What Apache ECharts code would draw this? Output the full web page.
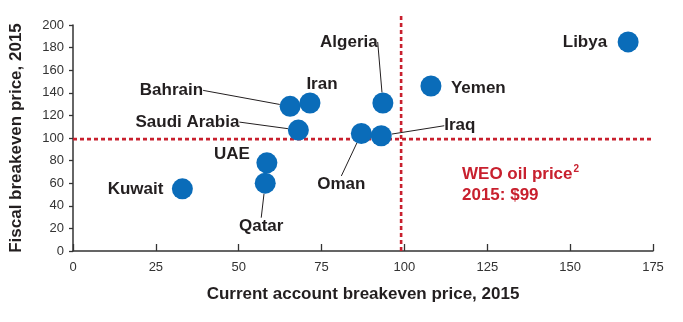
<!DOCTYPE html>
<html>
<head>
<meta charset="utf-8">
<script src="https://cdn.jsdelivr.net/npm/echarts@6/dist/echarts.min.js"></script>
<style>
html,body{margin:0;padding:0;background:#fff;}
#chart{width:683px;height:322px;}
</style>
</head>
<body>
<div id="chart"></div>
<script>
// ---- data ----
var countries = ['Kuwait','Qatar','UAE','Saudi Arabia','Bahrain','Iran','Oman','Iraq','Algeria','Yemen','Libya'];
var currentAccountBreakeven = [33, 58, 58.5, 68, 65.5, 71.5, 87, 93, 93.5, 108, 167.5];
var fiscalBreakeven = [55, 60, 78, 107, 128, 131, 104, 102, 131, 146, 185];
var weoOilPrice = 99;
var xTicks = [0, 25, 50, 75, 100, 125, 150, 175];
var yTicks = [0, 20, 40, 60, 80, 100, 120, 140, 160, 180, 200];

// ---- label placement (pixel offsets of text anchor from marker centre) ----
var labelPlacement = {
  'Kuwait':       {dx: -19, dy: 0,   align: 'right',  leader: false, pad: 2},
  'Qatar':        {dx: -4,  dy: 43,  align: 'center', leader: true,  pad: 5},
  'UAE':          {dx: -17, dy: -9,  align: 'right',  leader: false, pad: 2},
  'Saudi Arabia': {dx: -59, dy: -8,  align: 'right',  leader: true,  pad: 5},
  'Bahrain':      {dx: -87, dy: -16, align: 'right',  leader: true,  pad: 11},
  'Iran':         {dx: 12,  dy: -19, align: 'center', leader: false, pad: 2},
  'Oman':         {dx: -20, dy: 51,  align: 'center', leader: true,  pad: 6},
  'Iraq':         {dx: 63,  dy: -10, align: 'left',   leader: true,  pad: 6},
  'Algeria':      {dx: -34, dy: -61, align: 'center', leader: true,  pad: 7},
  'Yemen':        {dx: 20,  dy: 2,   align: 'left',   leader: false, pad: 2},
  'Libya':        {dx: -21, dy: 0,   align: 'right',  leader: false, pad: 2}
};

var RED = '#c8202e';
var BLUE = '#0a6cb9';
var INK = '#231f20';
var FONT = '"Liberation Sans", Arial, Helvetica, sans-serif';

var points = countries.map(function (n, i) {
  var p = labelPlacement[n];
  return {
    name: n,
    value: [currentAccountBreakeven[i], fiscalBreakeven[i]],
    label: {padding: p.pad},
    labelLine: {show: p.leader}
  };
});

var chart = echarts.init(document.getElementById('chart'), null, {renderer: 'canvas'});
chart.setOption({
  animation: false,
  grid: {left: 73, right: 30, top: 25, bottom: 71, containLabel: false},
  xAxis: {
    type: 'value', min: xTicks[0], max: xTicks[xTicks.length - 1], interval: 25,
    name: 'Current account breakeven price, 2015',
    nameLocation: 'middle', nameGap: 35,
    nameTextStyle: {fontFamily: FONT, fontWeight: 'bold', fontSize: 17, color: INK, verticalAlign: 'top'},
    axisLine: {show: true, lineStyle: {color: '#333', width: 1.5}},
    axisTick: {show: true, inside: true, length: 7, lineStyle: {color: '#333', width: 1.3}},
    axisLabel: {fontFamily: FONT, fontSize: 13, color: '#333', margin: 10},
    splitLine: {show: false}
  },
  yAxis: {
    type: 'value', min: yTicks[0], max: yTicks[yTicks.length - 1], interval: 20,
    name: 'Fiscal breakeven price, 2015',
    nameLocation: 'middle', nameGap: 48,
    nameTextStyle: {fontFamily: FONT, fontWeight: 'bold', fontSize: 17, color: INK},
    axisLine: {show: true, lineStyle: {color: '#333', width: 1.5}},
    axisTick: {show: true, inside: false, length: 4, lineStyle: {color: '#333', width: 1.3}},
    axisLabel: {fontFamily: FONT, fontSize: 13, color: '#333', margin: 9},
    splitLine: {show: false}
  },
  series: [
    {
      type: 'line', silent: true, clip: false, symbol: 'none', z: 1,
      data: [[weoOilPrice, 0], [weoOilPrice, 210]],
      lineStyle: {color: RED, width: 2.6, type: [4, 3]}
    },
    {
      type: 'line', silent: true, clip: false, symbol: 'none', z: 1,
      data: [[0, weoOilPrice], [175, weoOilPrice]],
      lineStyle: {color: RED, width: 2.6, type: [4, 3]}
    },
    {
      type: 'scatter', z: 5,
      symbol: 'circle', symbolSize: 21,
      itemStyle: {color: BLUE, opacity: 1},
      data: points,
      label: {
        show: true, position: 'inside',
        formatter: '{b}',
        fontFamily: FONT, fontWeight: 'bold', fontSize: 17, color: INK
      },
      labelLine: {show: true, lineStyle: {color: INK, width: 1}},
      labelLayout: function (params) {
        var p = labelPlacement[countries[params.dataIndex]];
        var cx = params.rect.x + params.rect.width / 2;
        var cy = params.rect.y + params.rect.height / 2;
        var shift = p.align === 'right' ? p.pad : (p.align === 'left' ? -p.pad : 0);
        return {x: cx + p.dx + shift, y: cy + p.dy, align: p.align, verticalAlign: 'middle'};
      }
    }
  ],
  graphic: [
    {
      type: 'text', left: 462, top: 164, z: 10,
      style: {
        text: '{m|WEO oil price}{s|2}\n{m|2015: $' + weoOilPrice + '}',
        rich: {
          m: {fontFamily: FONT, fontWeight: 'bold', fontSize: 17, fill: RED, color: RED, lineHeight: 21},
          s: {fontFamily: FONT, fontWeight: 'bold', fontSize: 10, fill: RED, color: RED, verticalAlign: 'top', lineHeight: 21, padding: [0, 0, 8, 1]}
        }
      }
    }
  ]
});
</script>
</body>
</html>
